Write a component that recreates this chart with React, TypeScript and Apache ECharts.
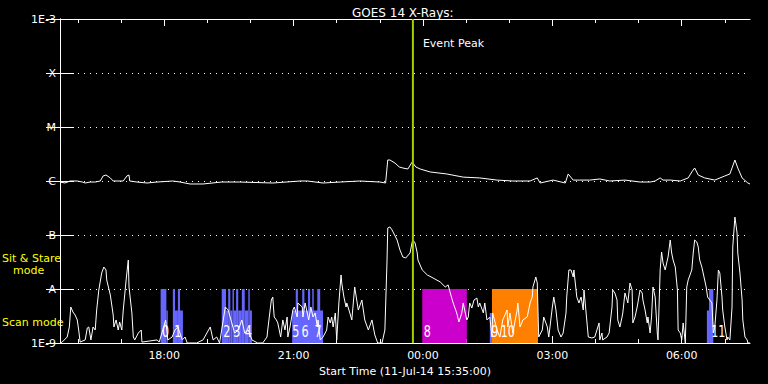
import React, { useEffect, useRef } from "react";
import * as echarts from "echarts";

// ---- Data ----
// time axis: minutes after start (11-Jul-14 15:35:00), 16 hours shown
const startTimeLabel = "Start Time (11-Jul-14 15:35:00)";
const xMajorTicks = [145, 325, 505, 685, 865];
const xMajorLabels = ["18:00", "21:00", "00:00", "03:00", "06:00"];
const xHourTicks = [25, 85, 145, 205, 265, 325, 385, 445, 505, 565, 625, 685, 745, 805, 865, 925];

const yExponents = [-9, -8, -7, -6, -5, -4, -3];
const yLabels = ["1E-9", "A", "B", "C", "M", "X", "1E-3"];
const bottomFlux = 1e-9;
const topFlux = 1e-3;

// GOES long channel (1-8 A), [minute, W/m^2]
const longChannel: number[][] = [
  [0, 9.57e-7], [7, 9.18e-7], [14, 1.0e-6], [24, 1.0e-6], [31, 9.57e-7], [35, 9.18e-7], [42, 9.57e-7],
  [49, 9.57e-7], [56, 1.0e-6], [60, 1.24e-6], [64, 1.29e-6], [70, 1.14e-6], [74, 1.0e-6], [88, 1.0e-6],
  [93, 1.24e-6], [96, 1.29e-6], [97, 1.0e-6], [107, 9.57e-7], [121, 9.18e-7], [135, 9.57e-7], [157, 1.0e-6],
  [167, 9.57e-7], [181, 8.8e-7], [199, 8.8e-7], [225, 9.57e-7], [250, 9.57e-7], [296, 9.18e-7], [334, 1.0e-6],
  [344, 1.0e-6], [366, 9.18e-7], [390, 9.57e-7], [417, 1.0e-6], [445, 9.57e-7], [453, 9.18e-7], [456, 2.45e-6],
  [459, 2.45e-6], [466, 2.15e-6], [472, 1.82e-6], [477, 1.74e-6], [484, 1.67e-6], [490, 2.25e-6], [495, 1.82e-6],
  [501, 1.67e-6], [515, 1.47e-6], [538, 1.35e-6], [561, 1.18e-6], [584, 1.14e-6], [608, 1.04e-6], [630, 1.0e-6],
  [654, 1.0e-6], [664, 1.14e-6], [668, 9.18e-7], [686, 1.04e-6], [703, 9.18e-7], [707, 1.35e-6], [714, 1.04e-6],
  [723, 1.04e-6], [737, 1.04e-6], [751, 1.09e-6], [765, 1.0e-6], [786, 1.04e-6], [807, 9.57e-7], [821, 9.57e-7],
  [828, 1.0e-6], [835, 1.14e-6], [839, 1.04e-6], [849, 1.04e-6], [863, 1.0e-6], [874, 1.14e-6], [879, 1.47e-6],
  [883, 1.74e-6], [888, 1.29e-6], [897, 1.14e-6], [911, 1.04e-6], [925, 1.24e-6], [932, 1.35e-6], [939, 2.45e-6],
  [943, 1.74e-6], [949, 1.14e-6], [957, 9.18e-7], [960, 8.8e-7],
];

// GOES short channel (0.5-4 A), [minute, W/m^2]
const shortChannel: number[][] = [
  [0, 1.0e-9], [3, 1.04e-9], [10, 1.29e-9], [13, 1.98e-9], [15, 4.64e-9], [18, 3.75e-9], [21, 3.3e-9],
  [24, 2.67e-9], [26, 1.74e-9], [28, 1.04e-9], [35, 1.14e-9], [38, 1.9e-9], [40, 1.98e-9], [43, 1.14e-9],
  [46, 1.98e-9], [49, 1.74e-9], [51, 4.08e-9], [54, 9.58e-9], [58, 1.98e-8], [61, 2.55e-8], [64, 2.25e-8],
  [65, 1.47e-8], [70, 7.74e-9], [74, 3.3e-9], [75, 1.98e-9], [78, 2.67e-9], [81, 1.74e-9], [83, 2.45e-9],
  [86, 1.74e-9], [88, 4.08e-9], [92, 1.47e-8], [95, 3.44e-8], [96, 1.09e-8], [100, 3.59e-9], [102, 1.29e-9],
  [104, 1.14e-9], [109, 1.53e-9], [113, 1.74e-9], [114, 1.04e-9], [135, 1.14e-9], [138, 1.04e-9], [143, 1.74e-9],
  [147, 2.67e-9], [150, 1.14e-9], [156, 1.29e-9], [160, 1.74e-9], [164, 1.98e-9], [170, 1.14e-9], [174, 1.29e-9],
  [177, 1.0e-9], [190, 1.0e-9], [199, 1.14e-9], [209, 1.98e-9], [213, 1.14e-9], [218, 1.29e-9], [222, 1.0e-9],
  [230, 4.64e-9], [234, 4.08e-9], [239, 2.35e-9], [243, 1.53e-9], [248, 1.74e-9], [253, 2.67e-9], [257, 1.53e-9],
  [262, 1.74e-9], [267, 1.14e-9], [275, 1.0e-9], [282, 1.0e-9], [288, 1.29e-9], [289, 1.74e-9], [294, 6.25e-9],
  [296, 7.11e-9], [298, 3.03e-9], [301, 2.67e-9], [303, 2.35e-9], [307, 1.29e-9], [310, 2.67e-9], [313, 1.74e-9],
  [316, 3.03e-9], [317, 1.29e-9], [320, 1.98e-9], [324, 4.08e-9], [326, 4.64e-9], [330, 3.03e-9], [331, 5.51e-9],
  [337, 4.64e-9], [338, 3.03e-9], [341, 5.51e-9], [344, 3.59e-9], [346, 2.67e-9], [349, 4.64e-9], [352, 3.03e-9],
  [355, 3.59e-9], [358, 1.98e-9], [359, 2.67e-9], [362, 1.14e-9], [366, 1.29e-9], [371, 1.74e-9], [373, 3.03e-9],
  [376, 2.35e-9], [378, 3.03e-9], [380, 1.98e-9], [383, 3.59e-9], [385, 1.14e-9], [388, 5.51e-9], [391, 1.82e-8],
  [392, 1.29e-8], [395, 7.11e-9], [398, 4.64e-9], [399, 5.51e-9], [402, 4.08e-9], [406, 2.67e-9], [410, 1.09e-8],
  [415, 4.08e-9], [420, 6.25e-9], [424, 2.67e-9], [429, 1.74e-9], [434, 2.67e-9], [438, 1.41e-9], [442, 1.0e-9],
  [448, 1.0e-9], [452, 1.74e-9], [455, 3.44e-8], [456, 1.35e-7], [459, 1.41e-7], [462, 1.24e-7], [469, 8.07e-8],
  [473, 5.27e-8], [477, 3.91e-8], [481, 3.75e-8], [487, 4.64e-8], [490, 7.42e-8], [491, 8.07e-8], [494, 7.11e-8],
  [497, 4.64e-8], [498, 3.44e-8], [501, 2.78e-8], [504, 2.25e-8], [511, 1.82e-8], [519, 1.6e-8], [529, 1.35e-8],
  [536, 1.09e-8], [540, 1.19e-8], [543, 8.43e-9], [547, 5.51e-9], [552, 3.59e-9], [555, 2.45e-9], [559, 3.59e-9],
  [561, 5.51e-9], [563, 4.08e-9], [566, 2.67e-9], [568, 3.03e-9], [570, 5.51e-9], [573, 4.45e-9], [576, 6.25e-9],
  [580, 6.81e-9], [582, 4.64e-9], [584, 5.51e-9], [589, 3.59e-9], [591, 5.51e-9], [594, 2.67e-9], [598, 3.03e-9],
  [601, 1.29e-9], [602, 3.59e-9], [608, 1.74e-9], [612, 1.29e-9], [616, 2.67e-9], [622, 4.08e-9], [623, 1.98e-9],
  [626, 3.59e-9], [630, 1.53e-9], [636, 4.08e-9], [637, 5.51e-9], [640, 1.98e-9], [644, 2.67e-9], [650, 3.03e-9],
  [654, 5.51e-9], [657, 7.11e-9], [658, 1.09e-8], [662, 1.67e-8], [664, 1.29e-8], [666, 1.29e-9], [671, 1.74e-9],
  [673, 3.03e-9], [678, 1.98e-9], [680, 1.29e-9], [685, 4.64e-9], [687, 7.11e-9], [690, 4.08e-9], [693, 1.74e-9],
  [697, 1.29e-9], [700, 1.53e-9], [704, 3.59e-9], [705, 7.11e-9], [708, 2.25e-8], [711, 2.25e-8], [714, 1.67e-8],
  [715, 2.25e-8], [719, 7.11e-9], [722, 5.51e-9], [725, 7.11e-9], [728, 4.08e-9], [729, 9.58e-9], [732, 3.59e-9],
  [735, 1.29e-9], [740, 1.24e-9], [744, 1.29e-9], [747, 1.74e-9], [750, 2.35e-9], [751, 1.14e-9], [754, 1.53e-9],
  [755, 1.14e-9], [761, 1.29e-9], [764, 1.53e-9], [768, 4.64e-9], [769, 9.58e-9], [772, 8.43e-9], [775, 6.25e-9],
  [776, 2.67e-9], [779, 1.98e-9], [782, 3.03e-9], [783, 3.59e-9], [786, 8.43e-9], [789, 6.25e-9], [790, 5.51e-9],
  [793, 1.29e-8], [796, 9.58e-9], [797, 2.35e-9], [800, 3.03e-9], [803, 4.64e-9], [804, 5.51e-9], [807, 9.58e-9],
  [810, 8.43e-9], [811, 6.25e-9], [814, 4.08e-9], [817, 2.35e-9], [818, 3.03e-9], [821, 1.53e-9], [823, 3.03e-9],
  [825, 1.09e-8], [828, 7.11e-9], [831, 1.53e-9], [832, 1.14e-9], [835, 2.25e-8], [837, 4.84e-8], [839, 3.03e-8],
  [842, 2.25e-8], [845, 3.44e-8], [846, 3.91e-8], [849, 8.07e-8], [851, 4.64e-8], [853, 3.44e-8], [856, 2.55e-8],
  [859, 9.58e-9], [860, 1.74e-9], [863, 1.53e-9], [865, 1.14e-9], [867, 2.35e-9], [870, 1.0e-9], [872, 1.09e-8],
  [874, 1.47e-8], [879, 2.25e-8], [881, 4.64e-8], [883, 8.07e-8], [886, 7.42e-8], [888, 6.0e-8], [890, 3.44e-8],
  [893, 2.55e-8], [896, 1.67e-8], [899, 1.09e-8], [901, 7.11e-9], [904, 6.25e-9], [907, 5.51e-9], [909, 1.53e-9],
  [911, 1.98e-9], [914, 6.25e-9], [916, 2.25e-8], [918, 1.98e-8], [921, 7.11e-9], [922, 4.08e-9], [925, 1.98e-9],
  [928, 1.14e-9], [929, 1.29e-9], [932, 1.14e-9], [935, 4.64e-9], [936, 6.0e-8], [939, 2.15e-7], [942, 1.09e-7],
  [943, 4.64e-8], [946, 1.98e-8], [949, 6.25e-9], [950, 2.67e-9], [953, 1.29e-9], [956, 1.14e-9], [957, 1.0e-9],
  [960, 1.0e-9],
];

// observation mode bands: [start minute, end minute, top flux, kind]
const bandKinds = ["#6666ff", "#cc00cc", "#ff8000"];
const bands: number[][] = [
  [140, 148, 1e-8, 0], [148, 150, 4e-9, 0], [157, 160, 1e-8, 0], [160, 164, 4e-9, 0], [164, 167, 1e-8, 0], [167, 171, 4e-9, 0],
  [225, 231, 1e-8, 0], [231, 234, 4e-9, 0], [234, 237, 1e-8, 0], [237, 240, 4e-9, 0], [240, 242, 1e-8, 0], [242, 245, 4e-9, 0],
  [245, 248, 1e-8, 0], [248, 253, 4e-9, 0], [253, 257, 1e-8, 0], [257, 262, 4e-9, 0], [262, 264, 1e-8, 0], [264, 267, 4e-9, 0],
  [323, 366, 4e-9, 0], [328, 331, 1e-8, 0], [337, 340, 1e-8, 0], [345, 348, 1e-8, 0], [351, 353, 1e-8, 0], [358, 362, 1e-8, 0],
  [504, 566, 1e-8, 1],
  [598, 601, 3.6e-9, 0], [601, 665, 1e-8, 2],
  [900, 903, 4e-9, 0], [903, 909, 1e-8, 0],
];
const bandLabels = ["0", "1", "2", "3", "4", "5", "6", "7", "8", "9", "10", "11"];
const bandLabelTimes = [147, 164, 232, 246, 262, 328, 341, 359, 511, 605, 623, 916];

const eventPeakTime = 491;
const eventLabel = "Event Peak";
const titleText = "GOES 14 X-Rays:";
const modeLabels = ["Sit & Stare", "mode", "Scan mode"];

// ---- Chart ----
const WHITE = "#ffffff";
const FONT = "'DejaVu Sans', sans-serif";

function yLabel(v: number): string {
  const e = Math.round(Math.log10(v));
  const i = yExponents.indexOf(e);
  return i >= 0 ? yLabels[i] : "";
}
function xLabel(v: number): string {
  const i = xMajorTicks.indexOf(Math.round(v));
  return i >= 0 ? xMajorLabels[i] : "";
}

function xAxisDef(position: string, ticks: number[], len: number, withLabels: boolean, showLine: boolean): any {
  return {
    type: "value",
    min: 0,
    max: 960,
    position,
    axisLine: { show: showLine, lineStyle: { color: WHITE, width: 1 } },
    axisTick: { show: true, inside: true, length: len, customValues: ticks, lineStyle: { color: WHITE, width: 1 } },
    axisLabel: withLabels
      ? { show: true, customValues: ticks, formatter: xLabel, color: WHITE, fontSize: 11, fontFamily: FONT, margin: 7 }
      : { show: false },
    splitLine: { show: false },
    ...(withLabels
      ? {
          name: startTimeLabel,
          nameLocation: "middle",
          nameGap: 23,
          nameTextStyle: { color: WHITE, fontSize: 11, fontFamily: FONT },
        }
      : {}),
  };
}

function yAxisDef(position: string, withLabels: boolean): any {
  return {
    type: "log",
    logBase: 10,
    min: bottomFlux,
    max: topFlux,
    splitNumber: 6,
    position,
    axisLine: { show: true, lineStyle: { color: WHITE, width: 1 } },
    axisTick: { show: true, inside: true, length: 14, lineStyle: { color: WHITE, width: 1 } },
    axisLabel: withLabels
      ? { show: true, formatter: yLabel, color: WHITE, fontSize: 11, fontFamily: FONT, margin: 4 }
      : { show: false },
    splitLine: withLabels ? { show: true, lineStyle: { color: WHITE, width: 1, type: [1, 5] } } : { show: false },
    minorTick: { show: false },
  };
}

export default function App() {
  const ref = useRef<HTMLDivElement>(null);
  useEffect(() => {
    if (!ref.current) return;
    const chart = echarts.init(ref.current, null, { renderer: "svg" });
    const option: any = {
      animation: false,
      backgroundColor: "#000000",
      title: {
        text: titleText,
        left: 347,
        top: 2,
        textStyle: { color: WHITE, fontSize: 12, fontWeight: "normal", fontFamily: FONT },
      },
      grid: { left: 60, right: 18, top: 19, bottom: 41 },
      xAxis: [
        xAxisDef("bottom", xMajorTicks, 7, true, true),
        xAxisDef("bottom", xHourTicks, 4, false, false),
        xAxisDef("top", xMajorTicks, 7, false, true),
        xAxisDef("top", xHourTicks, 4, false, false),
      ],
      yAxis: [yAxisDef("left", true), yAxisDef("right", false)],
      graphic: [
        { type: "text", left: 2, top: 253, style: { text: modeLabels[0], fill: "#ffff00", font: "11px " + FONT } },
        { type: "text", left: 13, top: 265, style: { text: modeLabels[1], fill: "#ffff00", font: "11px " + FONT } },
        { type: "text", left: 2, top: 317, style: { text: modeLabels[2], fill: "#ffff00", font: "11px " + FONT } },
      ],
      series: [
        {
          type: "custom",
          xAxisIndex: 0,
          yAxisIndex: 0,
          z: 1,
          silent: true,
          encode: { x: [0, 1], y: 2 },
          data: bands,
          renderItem: (params: any, api: any) => {
            const p0 = api.coord([api.value(0), api.value(2)]);
            const p1 = api.coord([api.value(1), bottomFlux]);
            return {
              type: "rect",
              shape: { x: p0[0], y: p0[1], width: p1[0] - p0[0], height: p1[1] - p0[1] },
              style: { fill: bandKinds[api.value(3)] },
            };
          },
        },
        {
          type: "line",
          xAxisIndex: 0,
          yAxisIndex: 0,
          z: 2,
          data: shortChannel,
          showSymbol: false,
          symbol: "none",
          lineStyle: { color: WHITE, width: 1 },
          silent: true,
        },
        {
          type: "line",
          xAxisIndex: 0,
          yAxisIndex: 0,
          z: 2,
          data: longChannel,
          showSymbol: false,
          symbol: "none",
          lineStyle: { color: WHITE, width: 1 },
          silent: true,
        },
        {
          type: "custom",
          xAxisIndex: 0,
          yAxisIndex: 0,
          z: 3,
          silent: true,
          data: bandLabelTimes.map((t) => [t, bottomFlux]),
          renderItem: (params: any, api: any) => {
            const p = api.coord([api.value(0), bottomFlux]);
            return {
              type: "text",
              x: p[0],
              y: p[1] - 4,
              scaleX: 0.7,
              style: {
                text: bandLabels[params.dataIndex],
                fill: WHITE,
                font: "16px " + FONT,
                align: "center",
                verticalAlign: "bottom",
              },
            };
          },
        },
        {
          type: "custom",
          xAxisIndex: 0,
          yAxisIndex: 0,
          z: 5,
          silent: true,
          data: [[eventPeakTime, topFlux]],
          renderItem: (params: any, api: any) => {
            const top = api.coord([api.value(0), topFlux]);
            const bot = api.coord([api.value(0), bottomFlux]);
            return {
              type: "group",
              children: [
                {
                  type: "line",
                  shape: { x1: top[0], y1: top[1], x2: bot[0], y2: bot[1] },
                  style: { stroke: "#a0d000", lineWidth: 2 },
                },
                {
                  type: "text",
                  x: top[0] + 10,
                  y: top[1] + 24,
                  style: { text: eventLabel, fill: WHITE, font: "11px " + FONT, verticalAlign: "middle" },
                },
              ],
            };
          },
        },
      ],
    };
    chart.setOption(option);
    return () => chart.dispose();
  }, []);
  return (
    <div
      ref={ref}
      style={{ position: "fixed", left: 0, top: 0, width: 768, height: 384, background: "#000000" }}
    />
  );
}
